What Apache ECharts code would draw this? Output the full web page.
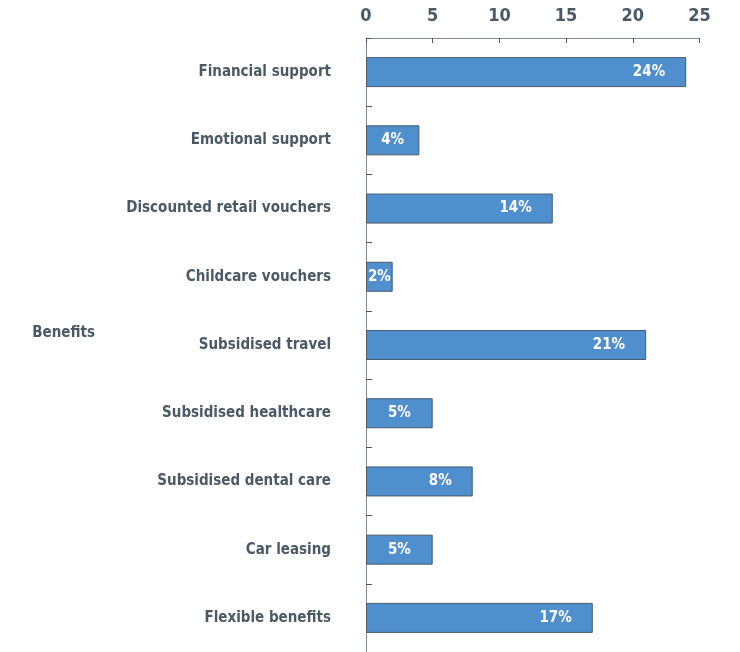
<!DOCTYPE html>
<html><head><meta charset="utf-8">
<script src="https://cdn.jsdelivr.net/npm/echarts@6/dist/echarts.min.js"></script>
<style>html,body{margin:0;padding:0;background:#fff}#c{width:740px;height:652px}</style>
</head><body><div id="c"></div>
<script>
const categories = ["Financial support","Emotional support","Discounted retail vouchers","Childcare vouchers","Subsidised travel","Subsidised healthcare","Subsidised dental care","Car leasing","Flexible benefits"];
const values = [24,4,14,2,21,5,8,5,17];
const xTicks = [0,5,10,15,20,25];
const FONT = '"Liberation Sans Narrow","DejaVu Sans Condensed",sans-serif';
const TXT = '#4a5966';
const chart = echarts.init(document.getElementById('c'));
const barData = values.map(v => v <= 5
  ? {value:v,label:{position:'inside'}}
  : {value:v});
chart.setOption({
  animation:false,
  grid:{left:366,top:38,width:333.5,height:616.5,containLabel:false},
  xAxis:{type:'value',position:'top',min:xTicks[0],max:xTicks[xTicks.length-1],interval:5,
    axisLine:{show:true,lineStyle:{color:'#7f8a94',width:1}},
    axisTick:{show:true,inside:true,length:5,lineStyle:{color:'#4a5966'}},
    axisLabel:{color:TXT,fontFamily:FONT,fontWeight:'bold',fontSize:18,margin:13},
    splitLine:{show:false}},
  yAxis:{type:'category',data:categories,inverse:true,
    name:'Benefits',nameLocation:'middle',nameRotate:0,nameGap:271,
    nameTextStyle:{color:TXT,fontFamily:FONT,fontWeight:'bold',fontSize:15,align:'right',verticalAlign:'bottom',padding:[0,0,4,0]},
    axisLine:{show:true,lineStyle:{color:'#7f8a94',width:1}},
    axisTick:{show:true,inside:true,length:6,lineStyle:{color:'#4a5966'}},
    axisLabel:{color:TXT,fontFamily:FONT,fontWeight:'bold',fontSize:15,margin:35}},
  series:[{type:'bar',data:barData,barWidth:30,
    itemStyle:{color:'#4f8fcd',borderColor:'#4a5a68',borderWidth:1},
    label:{show:true,position:'insideRight',distance:21,formatter:'{c}%',color:'#fff',fontFamily:FONT,fontWeight:'bold',fontSize:15}}]
});
</script></body></html>
